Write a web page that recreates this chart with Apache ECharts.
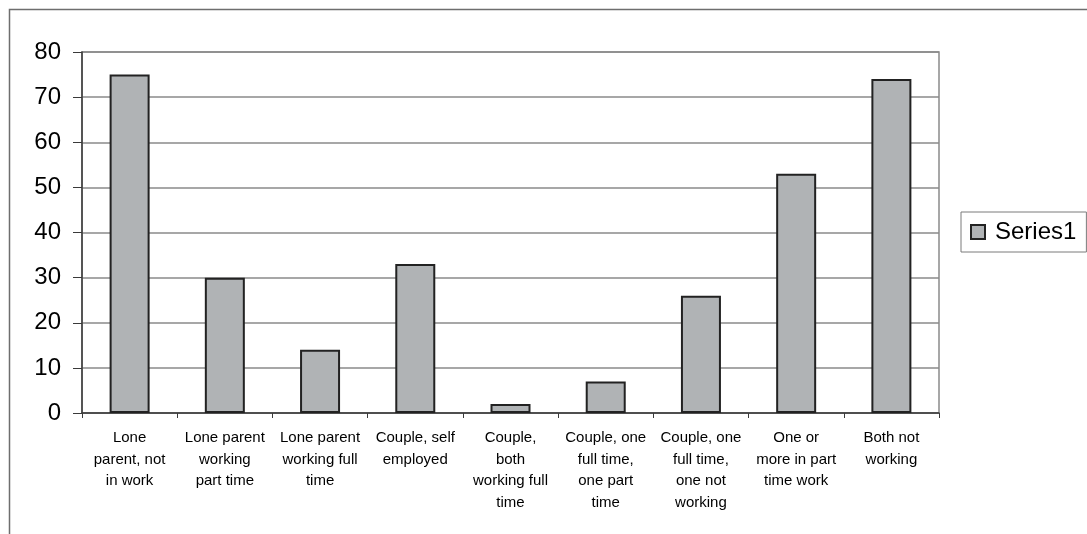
<!DOCTYPE html>
<html>
<head>
<meta charset="utf-8">
<script src="https://cdn.jsdelivr.net/npm/echarts@6/dist/echarts.min.js"></script>
<style>
  html, body { margin: 0; padding: 0; background: #ffffff; }
  #chart { width: 1087px; height: 534px; }
</style>
</head>
<body>
<div id="chart"></div>
<script>
// Household work status categories (x axis) and the single series of values
const categories = [
  'Lone\nparent, not\nin work',
  'Lone parent\nworking\npart time',
  'Lone parent\nworking full\ntime',
  'Couple, self\nemployed',
  'Couple,\nboth\nworking full\ntime',
  'Couple, one\nfull time,\none part\ntime',
  'Couple, one\nfull time,\none not\nworking',
  'One or\nmore in part\ntime work',
  'Both not\nworking'
];
const series1 = [75, 30, 14, 33, 2, 7, 26, 53, 74];
const seriesName = 'Series1';
const yTicks = { min: 0, max: 80, interval: 10 };

const FONT = "'Liberation Sans', Arial, sans-serif";

const chart = echarts.init(document.getElementById('chart'), null, { renderer: 'canvas' });

chart.setOption({
  backgroundColor: '#ffffff',
  animation: false,
  graphic: [{
    type: 'rect',
    shape: { x: 9.5, y: 9.5, width: 1200, height: 800 },
    style: { fill: 'none', stroke: '#6e6e6e', lineWidth: 1.5 },
    silent: true,
    z: -10
  }],
  grid: {
    left: 82,
    top: 52,
    right: 148,
    bottom: 121,
    show: true,
    borderColor: '#8a8a8a',
    borderWidth: 1.5,
    containLabel: false
  },
  legend: {
    left: 961,
    top: 212,
    orient: 'vertical',
    padding: [8, 10, 8, 9],
    borderColor: '#7a7a7a',
    borderWidth: 1,
    icon: 'rect',
    itemWidth: 14,
    itemHeight: 14,
    itemStyle: { color: '#b0b3b5', borderColor: '#222222', borderWidth: 2 },
    textStyle: {
      fontFamily: FONT,
      fontSize: 24,
      color: '#000000',
      padding: [0, 0, 0, 5]
    },
    data: [seriesName]
  },
  xAxis: {
    type: 'category',
    data: categories,
    boundaryGap: true,
    axisLine: { show: true, lineStyle: { color: '#3a3a3a', width: 1.5 } },
    axisTick: { show: true, length: 5, lineStyle: { color: '#3a3a3a', width: 1 } },
    axisLabel: {
      interval: 0,
      margin: 14,
      fontFamily: FONT,
      fontSize: 15,
      lineHeight: 21.7,
      color: '#000000',
      align: 'center'
    },
    splitLine: { show: false }
  },
  yAxis: {
    type: 'value',
    min: yTicks.min,
    max: yTicks.max,
    interval: yTicks.interval,
    axisLine: { show: true, lineStyle: { color: '#3a3a3a', width: 1.5 } },
    axisTick: { show: true, length: 9, lineStyle: { color: '#3a3a3a', width: 1 } },
    axisLabel: {
      margin: 21,
      fontFamily: FONT,
      fontSize: 24,
      color: '#000000'
    },
    splitLine: { show: true, lineStyle: { color: '#8a8a8a', width: 1.5 } }
  },
  series: [{
    name: seriesName,
    type: 'bar',
    data: series1,
    barWidth: 40,
    itemStyle: {
      color: '#b0b3b5',
      borderColor: '#222222',
      borderWidth: 2
    }
  }]
});
</script>
</body>
</html>
